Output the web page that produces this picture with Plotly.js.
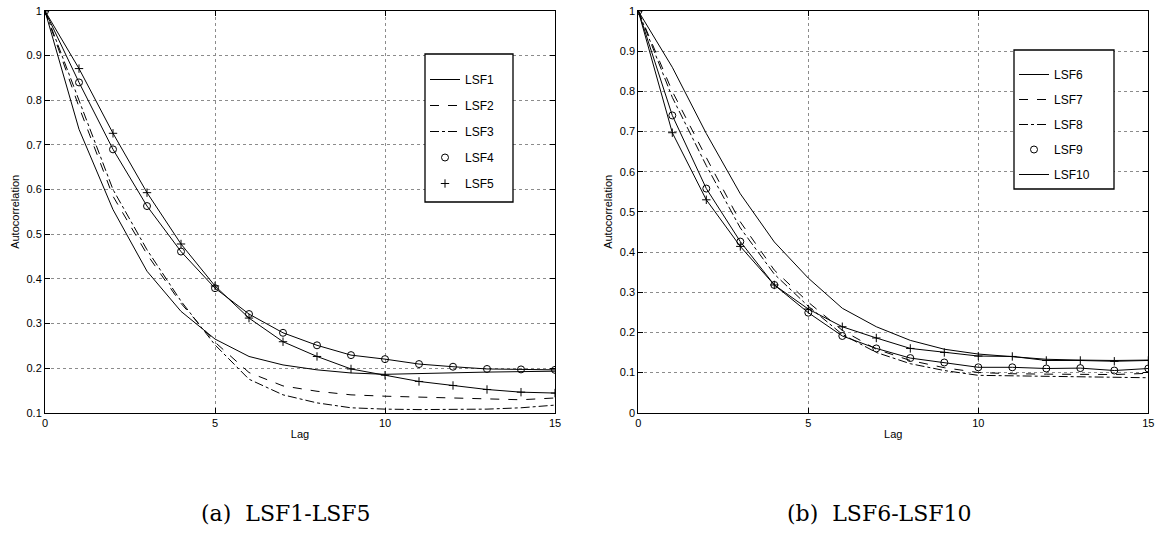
<!DOCTYPE html>
<html><head><meta charset="utf-8">
<script src="https://cdn.plot.ly/plotly-3.0.1.min.js"></script>
<style>html,body{margin:0;padding:0;background:#fff}#chart{width:1166px;height:541px}</style>
</head><body><div id="chart"></div>
<script>
const lags = [0,1,2,3,4,5,6,7,8,9,10,11,12,13,14,15];
const xTicks = [0,5,10,15];

// Panel (a)
const lsf1 = [1,0.735,0.555,0.417,0.327,0.265,0.226,0.207,0.196,0.189,0.186,0.188,0.19,0.191,0.192,0.193];
const lsf2 = [1,0.785,0.585,0.455,0.345,0.258,0.19,0.16,0.148,0.14,0.137,0.135,0.133,0.132,0.129,0.133];
const lsf3 = [1,0.80,0.60,0.465,0.35,0.252,0.175,0.14,0.122,0.111,0.108,0.107,0.107,0.108,0.111,0.117];
const lsf4 = [1,0.84,0.69,0.563,0.461,0.379,0.321,0.279,0.251,0.229,0.22,0.209,0.203,0.198,0.197,0.196];
const lsf5 = [1,0.871,0.726,0.593,0.478,0.384,0.312,0.259,0.226,0.198,0.184,0.17,0.161,0.152,0.146,0.144];

// Panel (b)
const lsf6 = [1,0.86,0.695,0.545,0.425,0.335,0.26,0.214,0.18,0.158,0.146,0.14,0.133,0.131,0.13,0.131];
const lsf7 = [1,0.80,0.635,0.475,0.355,0.275,0.205,0.158,0.13,0.112,0.1,0.097,0.096,0.096,0.095,0.098];
const lsf8 = [1,0.785,0.615,0.46,0.345,0.265,0.195,0.15,0.122,0.105,0.093,0.092,0.09,0.09,0.089,0.087];
const lsf9 = [1,0.74,0.558,0.426,0.318,0.249,0.191,0.16,0.136,0.125,0.113,0.113,0.11,0.111,0.105,0.11];
const lsf10 = [1,0.697,0.53,0.414,0.318,0.258,0.214,0.186,0.16,0.15,0.141,0.14,0.13,0.13,0.128,0.13];

const captionA = '(a)  LSF1-LSF5';
const captionB = '(b)  LSF6-LSF10';

const ln = (dash) => ({color:'#000', width:1, dash:dash});
const mk = (sym, size) => ({symbol:sym, size:size, color:'#000', line:{color:'#000', width:1}});

function lineTrace(y, name, dash, xa, ya, lg, show) {
  return {x:lags, y:y, name:name, mode:'lines', line:ln(dash), xaxis:xa, yaxis:ya,
          legend:lg, legendgroup:name, showlegend:show, hoverinfo:'skip'};
}
function markTrace(y, name, sym, size, xa, ya, lg, show) {
  return {x:lags, y:y, name:name, mode:'markers', marker:mk(sym,size), xaxis:xa, yaxis:ya,
          legend:lg, legendgroup:name, showlegend:show, hoverinfo:'skip'};
}

const data = [
  lineTrace(lsf1,'LSF1','solid','x','y','legend',true),
  lineTrace(lsf2,'LSF2','dash','x','y','legend',true),
  lineTrace(lsf3,'LSF3','dashdot','x','y','legend',true),
  lineTrace(lsf4,'LSF4','solid','x','y','legend',false),
  markTrace(lsf4,'LSF4','circle-open',7,'x','y','legend',true),
  lineTrace(lsf5,'LSF5','solid','x','y','legend',false),
  markTrace(lsf5,'LSF5','cross-thin-open',6,'x','y','legend',true),

  lineTrace(lsf6,'LSF6','solid','x2','y2','legend2',true),
  lineTrace(lsf7,'LSF7','dash','x2','y2','legend2',true),
  lineTrace(lsf8,'LSF8','dashdot','x2','y2','legend2',true),
  lineTrace(lsf9,'LSF9','solid','x2','y2','legend2',false),
  markTrace(lsf9,'LSF9','circle-open',7,'x2','y2','legend2',true),
  lineTrace(lsf10,'LSF10','solid','x2','y2','legend2',true),
  markTrace(lsf10,'LSF10','cross-thin-open',6,'x2','y2','legend2',false)
];

const W = 1166, H = 541;
const px = v => v / W;
const py = v => 1 - v / H;
const tickFont = {family:'Liberation Sans, Arial, sans-serif', size:11, color:'#000'};

function xAxis(domain, anchor) {
  return {domain:domain, anchor:anchor, range:[0,15], tickvals:xTicks, ticks:'inside', ticklen:5,
    tickcolor:'#000', showline:true, linecolor:'#000', linewidth:1, mirror:'allticks',
    showgrid:true, gridcolor:'#8c8c8c', griddash:'dot', gridwidth:1, zeroline:false,
    tickfont:tickFont, automargin:false,
    title:{text:'Lag', font:tickFont, standoff:2}};
}
function yAxis(range, anchor) {
  return {domain:[py(412.7), py(11)], anchor:anchor, range:range, dtick:0.1, tick0:0, ticks:'inside', ticklen:5,
    tickcolor:'#000', showline:true, linecolor:'#000', linewidth:1, mirror:'allticks',
    showgrid:true, gridcolor:'#8c8c8c', griddash:'dot', gridwidth:1, zeroline:false,
    tickfont:tickFont, automargin:false,
    title:{text:'Autocorrelation', font:tickFont, standoff:4}};
}

const legendFont = {family:'Liberation Sans, Arial, sans-serif', size:12, color:'#000'};
const capFont = {family:'DejaVu Serif, serif', size:22, color:'#000'};
const layout = {
  width:W, height:H, margin:{l:0,r:0,t:0,b:0},
  paper_bgcolor:'#fff', plot_bgcolor:'#fff',
  xaxis:xAxis([px(45), px(555)], 'y'),
  yaxis:yAxis([0.1,1], 'x'),
  xaxis2:xAxis([px(638.3), px(1148.3)], 'y2'),
  yaxis2:yAxis([0,1], 'x2'),
  legend:{x:px(425), y:py(65), xanchor:'left', yanchor:'top', bgcolor:'rgba(0,0,0,0)', borderwidth:0,
    font:legendFont, traceorder:'grouped', tracegroupgap:7},
  legend2:{x:px(1014), y:py(60), xanchor:'left', yanchor:'top', bgcolor:'rgba(0,0,0,0)', borderwidth:0,
    font:legendFont, traceorder:'grouped', tracegroupgap:6},
  shapes:[
    {type:'rect', xref:'paper', yref:'paper', x0:px(425), x1:px(513), y0:py(202), y1:py(54),
     line:{color:'#000', width:1.3}, fillcolor:'#fff', layer:'above'},
    {type:'rect', xref:'paper', yref:'paper', x0:px(1014), x1:px(1114), y0:py(189), y1:py(50),
     line:{color:'#000', width:1.3}, fillcolor:'#fff', layer:'above'}
  ],
  annotations:[
    {text:captionA, xref:'paper', yref:'paper', x:px(286), y:py(513), xanchor:'center', yanchor:'middle',
     showarrow:false, font:capFont},
    {text:captionB, xref:'paper', yref:'paper', x:px(879), y:py(513), xanchor:'center', yanchor:'middle',
     showarrow:false, font:capFont}
  ],
  showlegend:true
};

Plotly.newPlot('chart', data, layout, {staticPlot:true, displayModeBar:false});
</script>
</body></html>
